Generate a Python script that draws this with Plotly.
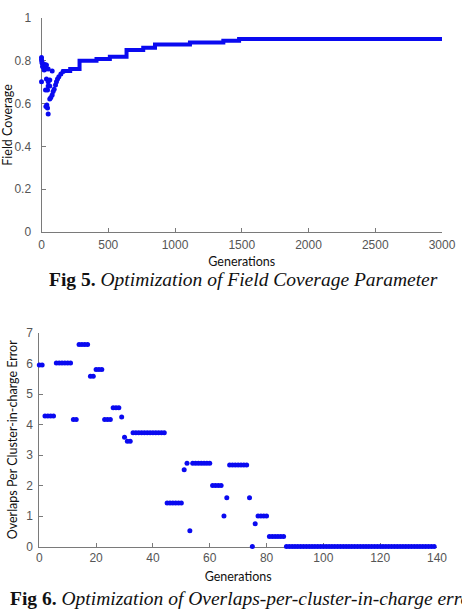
import plotly.graph_objects as go

W, H = 462, 610

# ---------------- Fig 5 data (Field coverage vs generations) ----------------
early_gen = [0, 0, 3, 5, 8, 12, 0, 25, 37, 20, 30, 50, 80, 37, 50, 62, 50, 30, 45, 62,
             40, 33, 45, 50, 62, 70, 80, 87, 95, 105, 112, 120, 130, 145, 162]
early_cov = [0.815, 0.805, 0.795, 0.788, 0.775, 0.770, 0.702, 0.783, 0.780, 0.757,
             0.762, 0.762, 0.752, 0.715, 0.702, 0.710, 0.682, 0.664, 0.664, 0.682,
             0.593, 0.586, 0.580, 0.551, 0.621, 0.629, 0.640, 0.656, 0.667, 0.687,
             0.702, 0.715, 0.726, 0.738, 0.750]
step_gen = [150, 215, 285, 412, 512, 637, 762, 850, 1112, 1362, 1480, 3000]
step_cov = [0.752, 0.762, 0.800, 0.808, 0.819, 0.850, 0.861, 0.876, 0.886, 0.894, 0.902, 0.902]
fig5_xticks = [0, 500, 1000, 1500, 2000, 2500, 3000]
fig5_yticks = [0, 0.2, 0.4, 0.6, 0.8, 1]

# ---------------- Fig 6 data (Overlaps per cluster-in-charge error) ----------------
ovl_gen = list(range(140))
ovl_err = [5.95, 5.95,
           4.28, 4.28, 4.28, 4.28,
           6.02, 6.02, 6.02, 6.02, 6.02, 6.02,
           4.16, 4.16,
           6.62, 6.62, 6.62, 6.62,
           5.58, 5.58,
           5.80, 5.80, 5.80,
           4.16, 4.16, 4.16,
           4.55, 4.55, 4.55,
           4.25,
           3.58,
           3.45, 3.45,
           3.73, 3.73, 3.73, 3.73, 3.73, 3.73, 3.73, 3.73, 3.73, 3.73, 3.73, 3.73,
           1.43, 1.43, 1.43, 1.43, 1.43, 1.43,
           2.52,
           2.73,
           0.52,
           2.73, 2.73, 2.73, 2.73, 2.73, 2.73, 2.73,
           2.00, 2.00, 2.00, 2.00,
           1.00,
           1.60,
           2.67, 2.67, 2.67, 2.67, 2.67, 2.67, 2.67,
           1.60,
           0.00,
           0.75,
           1.00, 1.00, 1.00, 1.00,
           0.33, 0.33, 0.33, 0.33, 0.33, 0.33,
           0, 0, 0, 0, 0, 0, 0, 0, 0, 0, 0, 0, 0, 0, 0, 0, 0, 0, 0, 0,
           0, 0, 0, 0, 0, 0, 0, 0, 0, 0, 0, 0, 0, 0, 0, 0, 0, 0, 0, 0,
           0, 0, 0, 0, 0, 0, 0, 0, 0, 0, 0, 0, 0]
fig6_xticks = [0, 20, 40, 60, 80, 100, 120, 140]
fig6_yticks = [0, 1, 2, 3, 4, 5, 6, 7]

BLUE = "#0a0af0"
AX = "#7a7a7a"
TICKFONT = dict(family="Liberation Sans, Arial", size=12, color="#555555")
TITLEFONT = dict(family="Lato, Open Sans", size=12.5, color="#111111")
CAPFONT = dict(family="Liberation Serif, Times New Roman", size=19.5, color="#111111")


def px_x(p):
    return p / W


def px_y(p):
    return 1 - p / H


fig = go.Figure()

fig.add_trace(go.Scatter(x=step_gen, y=step_cov, mode="lines", line=dict(color=BLUE, width=4, shape="hv"),
                         xaxis="x", yaxis="y", cliponaxis=False, showlegend=False))
fig.add_trace(go.Scatter(x=early_gen, y=early_cov, mode="markers", marker=dict(color=BLUE, size=5),
                         xaxis="x", yaxis="y", cliponaxis=False, showlegend=False))
fig.add_trace(go.Scatter(x=ovl_gen, y=ovl_err, mode="markers", marker=dict(color=BLUE, size=5),
                         xaxis="x2", yaxis="y2", cliponaxis=False, showlegend=False))

axis_common = dict(showline=True, linecolor=AX, linewidth=1, ticks="inside", ticklen=4,
                   tickcolor=AX, showgrid=False, zeroline=False, mirror=False,
                   tickfont=TICKFONT, layer="below traces", automargin=False)

fig.update_layout(
    width=W, height=H,
    margin=dict(l=0, r=0, t=0, b=0),
    paper_bgcolor="white", plot_bgcolor="white",
    xaxis=dict(domain=[px_x(41.5), px_x(442)], range=[0, 3000], tickvals=fig5_xticks,
               anchor="y", ticklabelstandoff=2,
               title=dict(text="Generations", font=TITLEFONT, standoff=5), **axis_common),
    yaxis=dict(domain=[px_y(232), px_y(18)], range=[0, 1], tickvals=fig5_yticks,
               anchor="x", ticklabelstandoff=7,
               title=dict(text="Field Coverage", font=TITLEFONT, standoff=6), **axis_common),
    xaxis2=dict(domain=[px_x(39.3), px_x(437)], range=[0, 140], tickvals=fig6_xticks,
                anchor="y2", ticklabelstandoff=0,
                title=dict(text="Generations", font=TITLEFONT, standoff=8), **axis_common),
    yaxis2=dict(domain=[px_y(546.5), px_y(333)], range=[0, 7], tickvals=fig6_yticks,
                anchor="x2", ticklabelstandoff=3,
                title=dict(text="Overlaps Per Cluster-in-charge Error", font=TITLEFONT, standoff=5),
                **axis_common),
    annotations=[
        dict(text="<b>Fig 5.</b> <i>Optimization of Field Coverage Parameter</i>",
             xref="paper", yref="paper", x=px_x(243), y=px_y(279), xanchor="center", yanchor="middle",
             showarrow=False, font=CAPFONT),
        dict(text="<b>Fig 6.</b> <i>Optimization of Overlaps-per-cluster-in-charge error</i>",
             xref="paper", yref="paper", x=px_x(8), y=px_y(598), xanchor="left", yanchor="middle",
             showarrow=False, font=CAPFONT),
    ],
)

fig.write_html("out.html")
